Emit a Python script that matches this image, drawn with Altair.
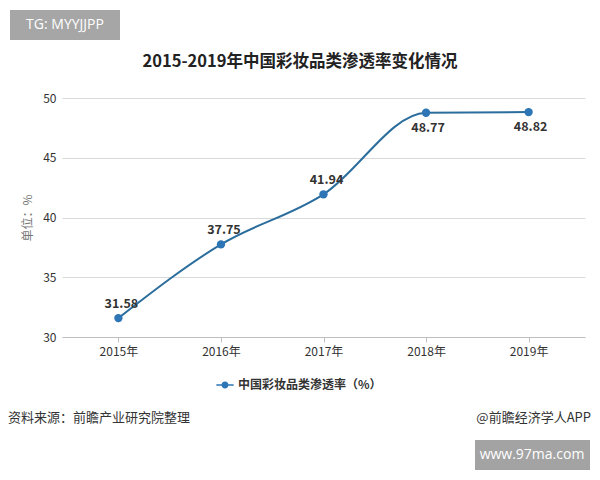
import altair as alt
import pandas as pd

years = ["2015年", "2016年", "2017年", "2018年", "2019年"]
values = [31.58, 37.75, 41.94, 48.77, 48.82]
label_below = [False, False, False, True, True]
series_name = "中国彩妆品类渗透率（%）"

title_text = "2015-2019年中国彩妆品类渗透率变化情况"
source_text = "资料来源：前瞻产业研究院整理"
brand_text = "@前瞻经济学人APP"
wm_top = "TG: MYYJJPP"
wm_bottom = "www.97ma.com"

FONT = "Noto Sans CJK SC"
LINE_C = "#2b6d9c"
PT_C = "#2e75b6"

df = pd.DataFrame({"year": years, "value": values, "below": label_below,
                   "series": [series_name] * len(years)})

x = alt.X("year:N", sort=years, title=None,
          scale=alt.Scale(type="point", padding=0.55),
          axis=alt.Axis(labelAngle=0, labelFont=FONT, labelFontSize=12,
                        labelColor="#333", domainColor="#bfbfbf", tickColor="#bfbfbf",
                        tickSize=5, labelPadding=4, grid=False))
y = alt.Y("value:Q", title="单位：%",
          scale=alt.Scale(domain=[30, 50], nice=False, zero=False),
          axis=alt.Axis(values=[30, 35, 40, 45, 50], labelFont=FONT, labelFontSize=12,
                        labelColor="#333", domain=False, ticks=False, gridColor="#d9d9d9",
                        labelPadding=6, titleFont=FONT, titleFontSize=12,
                        titleColor="#777", titleFontWeight="normal", titlePadding=8))

color = alt.Color("series:N", scale=alt.Scale(range=[PT_C]),
                  legend=alt.Legend(orient="none", legendX=154, legendY=278, title=None,
                                    labelFont=FONT, labelFontSize=12, labelFontWeight="bold",
                                    labelColor="#333",
                                    symbolType="M-1,-0.08h2v0.16h-2z M0.4,0 A0.4,0.4 0 1,1 -0.4,0 A0.4,0.4 0 1,1 0.4,0",
                                    symbolSize=300, symbolStrokeWidth=0, symbolFillColor=PT_C))

base = alt.Chart(df)
line = base.mark_line(interpolate="monotone", color=LINE_C, strokeWidth=2).encode(x=x, y=y)
pts = base.mark_point(filled=True, size=70, opacity=1).encode(x=x, y=y, color=color)
lab_up = base.transform_filter("!datum.below").mark_text(
    dy=-14, dx=3, font=FONT, fontSize=12.5, fontWeight="bold", color="#333").encode(
    x=x, y=y, text=alt.Text("value:Q", format=".2f"))
lab_dn = base.transform_filter("datum.below").mark_text(
    dy=15, dx=2, font=FONT, fontSize=12.5, fontWeight="bold", color="#333").encode(
    x=x, y=y, text=alt.Text("value:Q", format=".2f"))

one = pd.DataFrame({"a": [0]})
ann = alt.Chart(one)
title = ann.mark_text(font=FONT, fontSize=16.5, fontWeight="bold", color="#222").encode(
    x=alt.value(238), y=alt.value(-36), text=alt.value(title_text))
src = ann.mark_text(font=FONT, fontSize=13, color="#333", align="left").encode(
    x=alt.value(-54), y=alt.value(320), text=alt.value(source_text))
brand = ann.mark_text(font=FONT, fontSize=13, color="#333", align="right").encode(
    x=alt.value(529), y=alt.value(320), text=alt.value(brand_text))
box1 = ann.mark_rect(color="#a6a6a6").encode(
    x=alt.value(-52), x2=alt.value(58), y=alt.value(-88), y2=alt.value(-58))
t1 = ann.mark_text(font="Open Sans", fontSize=14, color="white").encode(
    x=alt.value(3), y=alt.value(-73), text=alt.value(wm_top))
box2 = ann.mark_rect(color="#a3a3a3").encode(
    x=alt.value(413), x2=alt.value(528), y=alt.value(342), y2=alt.value(372))
t2 = ann.mark_text(font="Open Sans", fontSize=14, color="white").encode(
    x=alt.value(470), y=alt.value(357), text=alt.value(wm_bottom))

chart = alt.layer(line, pts, lab_up, lab_dn, title, src, brand, box1, t1, box2, t2).properties(
    width=523, height=239,
    background="white",
    autosize=alt.AutoSizeParams(type="none"),
    padding={"left": 54, "top": 90, "right": 7, "bottom": 135},
).configure_view(stroke=None)

chart.save("out.html", embed_options={"renderer": "svg", "actions": False})
